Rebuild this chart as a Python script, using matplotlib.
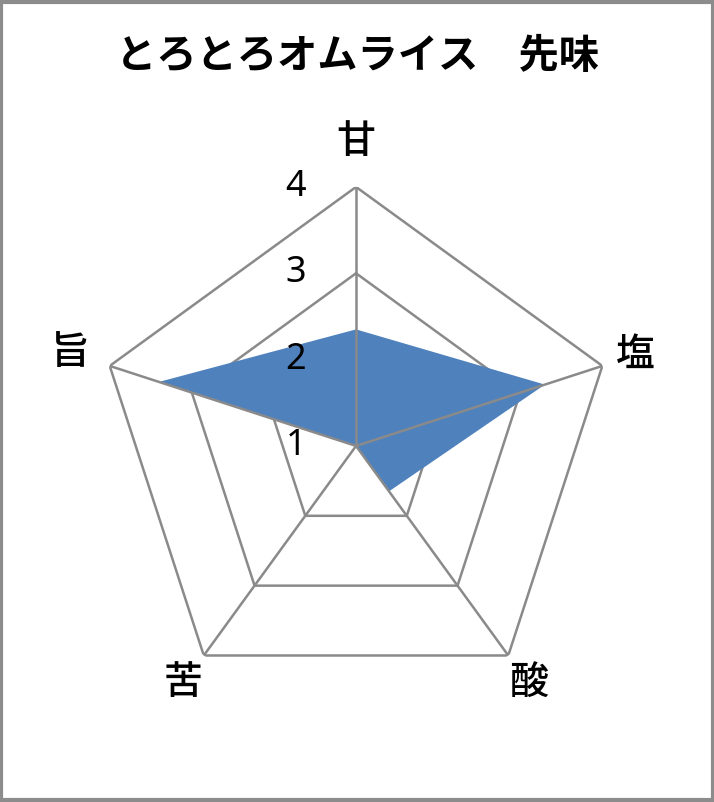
import numpy as np
import matplotlib
matplotlib.use("Agg")
import matplotlib.pyplot as plt
from matplotlib.patches import Rectangle
from matplotlib.transforms import offset_copy

plt.rcParams['font.family'] = ['Noto Sans CJK JP', 'DejaVu Sans']

# data
title = "とろとろオムライス　先味"
categories = ["甘", "塩", "酸", "苦", "旨"]
values = [2.35, 3.3, 1.65, 1.0, 3.4]
rings = [2, 3, 4]
tick_labels = ["1", "2", "3", "4"]

grid_color = "#8a8a8a"
fill_color = "#4f81bd"

fig = plt.figure(figsize=(7.14, 8.02), dpi=100)

# grey outer frame
fig.patches.append(Rectangle((0.002, 0.002), 0.996, 0.996, transform=fig.transFigure,
                             fill=False, edgecolor="#8c8c8c", linewidth=3))

fig.text(0.5, 0.929, title, ha="center", va="center", fontsize=29, fontweight="bold")

ax = fig.add_axes([0.1359, 0.121, 0.7255, 0.6459], projection="polar")
ax.set_theta_zero_location("N")
ax.set_theta_direction(-1)
ax.set_ylim(1, 4)
ax.grid(False)
ax.set_xticks([])
ax.set_yticks([])
ax.spines["polar"].set_visible(False)
ax.patch.set_visible(False)

n = len(categories)
angles = np.linspace(0, 2 * np.pi, n, endpoint=False)
closed = np.append(angles, angles[0])

# pentagon rings (below the fill)
for r in rings:
    ax.plot(closed, [r] * (n + 1), color=grid_color, linewidth=1.8, zorder=1)

# data polygon
vals = values + values[:1]
ax.fill(closed, vals, color=fill_color, linewidth=0, zorder=2)

# spokes (above the fill)
for a in angles:
    ax.plot([a, a], [1, 4], color=grid_color, linewidth=1.8, zorder=3)

# radial value labels, shifted left of the top spoke
shift = offset_copy(ax.transData, fig=fig, x=-60, y=0, units="dots")
for i, t in enumerate(tick_labels):
    ax.text(0, i + 1, t, transform=shift, ha="center", va="center",
            fontsize=26, family=["Noto Sans", "DejaVu Sans"], fontweight="medium", zorder=4)

# category labels
label_r = [4.52, 4.4, 4.4, 4.4, 4.48]
for a, c, r in zip(angles, categories, label_r):
    ax.text(a, r, c, ha="center", va="center", fontsize=28, fontweight="medium", zorder=4)

fig.savefig("out.png", dpi=100)
